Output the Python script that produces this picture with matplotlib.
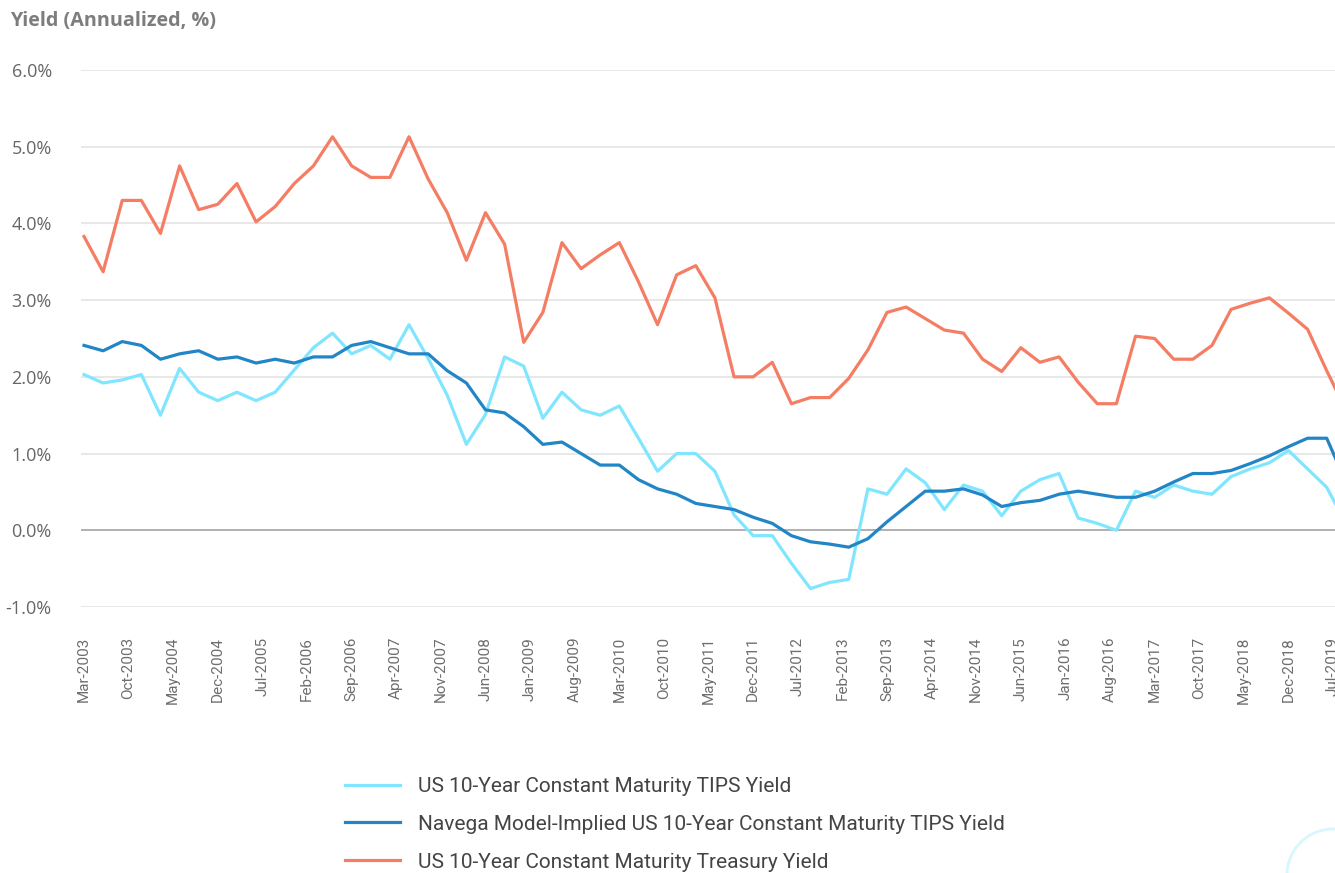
import numpy as np
import pandas as pd
import matplotlib
matplotlib.use('Agg')
import matplotlib.pyplot as plt
from matplotlib.patches import Arc

# quarterly observations, Mar-2003 onward (last one runs past the right edge)
dates = pd.date_range('2003-03-01', periods=67, freq='3MS')

tips_yield = [2.03, 1.92, 1.96, 2.03, 1.50, 2.11, 1.80, 1.69, 1.80, 1.69,
              1.80, 2.09, 2.38, 2.57, 2.30, 2.41, 2.23, 2.68, 2.24, 1.76,
              1.12, 1.51, 2.26, 2.14, 1.46, 1.80, 1.57, 1.50, 1.62, 1.20,
              0.77, 1.00, 1.00, 0.77, 0.20, -0.07, -0.07, -0.43, -0.76, -0.68,
              -0.64, 0.54, 0.47, 0.80, 0.62, 0.27, 0.59, 0.51, 0.19, 0.51,
              0.66, 0.74, 0.16, 0.09, 0.00, 0.51, 0.43, 0.59, 0.51, 0.47,
              0.70, 0.80, 0.88, 1.04, 0.80, 0.56, 0.09]

model_yield = [2.41, 2.34, 2.46, 2.41, 2.23, 2.30, 2.34, 2.23, 2.26, 2.18,
               2.23, 2.18, 2.26, 2.26, 2.41, 2.46, 2.38, 2.30, 2.30, 2.08,
               1.92, 1.57, 1.53, 1.35, 1.12, 1.15, 1.00, 0.85, 0.85, 0.66,
               0.54, 0.47, 0.35, 0.31, 0.27, 0.17, 0.09, -0.07, -0.15, -0.18,
               -0.22, -0.11, 0.11, 0.31, 0.51, 0.51, 0.54, 0.46, 0.31, 0.36,
               0.39, 0.47, 0.51, 0.47, 0.43, 0.43, 0.51, 0.63, 0.74, 0.74,
               0.78, 0.87, 0.97, 1.09, 1.20, 1.20, 0.63]

treasury_yield = [3.83, 3.37, 4.30, 4.30, 3.87, 4.75, 4.18, 4.25, 4.52, 4.02,
                  4.22, 4.52, 4.75, 5.13, 4.75, 4.60, 4.60, 5.13, 4.58, 4.14,
                  3.52, 4.14, 3.73, 2.45, 2.84, 3.75, 3.41, 3.59, 3.75, 3.24,
                  2.68, 3.33, 3.45, 3.03, 2.00, 2.00, 2.19, 1.65, 1.73, 1.73,
                  1.98, 2.35, 2.84, 2.91, 2.76, 2.61, 2.57, 2.23, 2.07, 2.38,
                  2.19, 2.26, 1.93, 1.65, 1.65, 2.53, 2.50, 2.23, 2.23, 2.41,
                  2.88, 2.96, 3.03, 2.83, 2.62, 2.08, 1.57]

tick_labels = ['Mar-2003', 'Oct-2003', 'May-2004', 'Dec-2004', 'Jul-2005',
               'Feb-2006', 'Sep-2006', 'Apr-2007', 'Nov-2007', 'Jun-2008',
               'Jan-2009', 'Aug-2009', 'Mar-2010', 'Oct-2010', 'May-2011',
               'Dec-2011', 'Jul-2012', 'Feb-2013', 'Sep-2013', 'Apr-2014',
               'Nov-2014', 'Jun-2015', 'Jan-2016', 'Aug-2016', 'Mar-2017',
               'Oct-2017', 'May-2018', 'Dec-2018', 'Jul-2019']
y_ticks = [-1, 0, 1, 2, 3, 4, 5, 6]

# month offset from Mar-2003 is the x position
x = (dates.year - 2003) * 12 + dates.month - 3
tick_pos = np.arange(len(tick_labels)) * 7

W, H = 1335, 873
fig = plt.figure(figsize=(W / 100, H / 100), dpi=100)
ax = fig.add_axes([81 / W, 1 - 607 / H, (W - 81) / W, (607 - 70) / H])

ax.plot(x, tips_yield, color='#80e6ff', lw=2.3, label='US 10-Year Constant Maturity TIPS Yield', zorder=3)
ax.plot(x, model_yield, color='#2286c6', lw=2.3, label='Navega Model-Implied US 10-Year Constant Maturity TIPS Yield', zorder=4)
ax.plot(x, treasury_yield, color='#f47d64', lw=2.3, label='US 10-Year Constant Maturity Treasury Yield', zorder=3)

ax.set_xlim(-0.47, 196.3)
ax.set_ylim(-1, 6)
ax.set_yticks(y_ticks)
ax.set_yticklabels([f'{v:.1f}%' for v in y_ticks], fontfamily='Open Sans', fontsize=13, color='#666666')
ax.set_xticks(tick_pos)
ax.set_xticklabels(tick_labels, rotation=90, fontfamily='Roboto', fontsize=11, color='#6e6e6e')
ax.tick_params(axis='x', length=0, pad=21.5)
ax.tick_params(axis='y', length=0, pad=21)
for lbl in ax.get_yticklabels():
    lbl.set_horizontalalignment('right')

for v in y_ticks:
    ax.axhline(v, color='#aaaaaa' if v == 0 else '#e6e6e6', lw=1.3, zorder=1)
for s in ax.spines.values():
    s.set_visible(False)

fig.text(10 / W, 1 - 21 / H, 'Yield (Annualized, %)', fontfamily='Open Sans', fontweight='bold',
         fontsize=14.2, color='#7d7d7d', va='center', ha='left')

fig.legend(loc='upper left', bbox_to_anchor=(345 / W, 1 - 777 / H), frameon=False,
           prop={'family': 'Roboto', 'size': 15}, labelcolor='#444444',
           handlelength=2.65, handletextpad=0.87, labelspacing=0.9, borderpad=0, borderaxespad=0)

# faint decorative ring in the bottom-right corner
fig.patches.append(Arc((1333 / W, 1 - 875 / H), 92 / W, 92 / H, transform=fig.transFigure,
                       color='#d8f6fd', lw=2))

fig.savefig('out.png', dpi=100)
